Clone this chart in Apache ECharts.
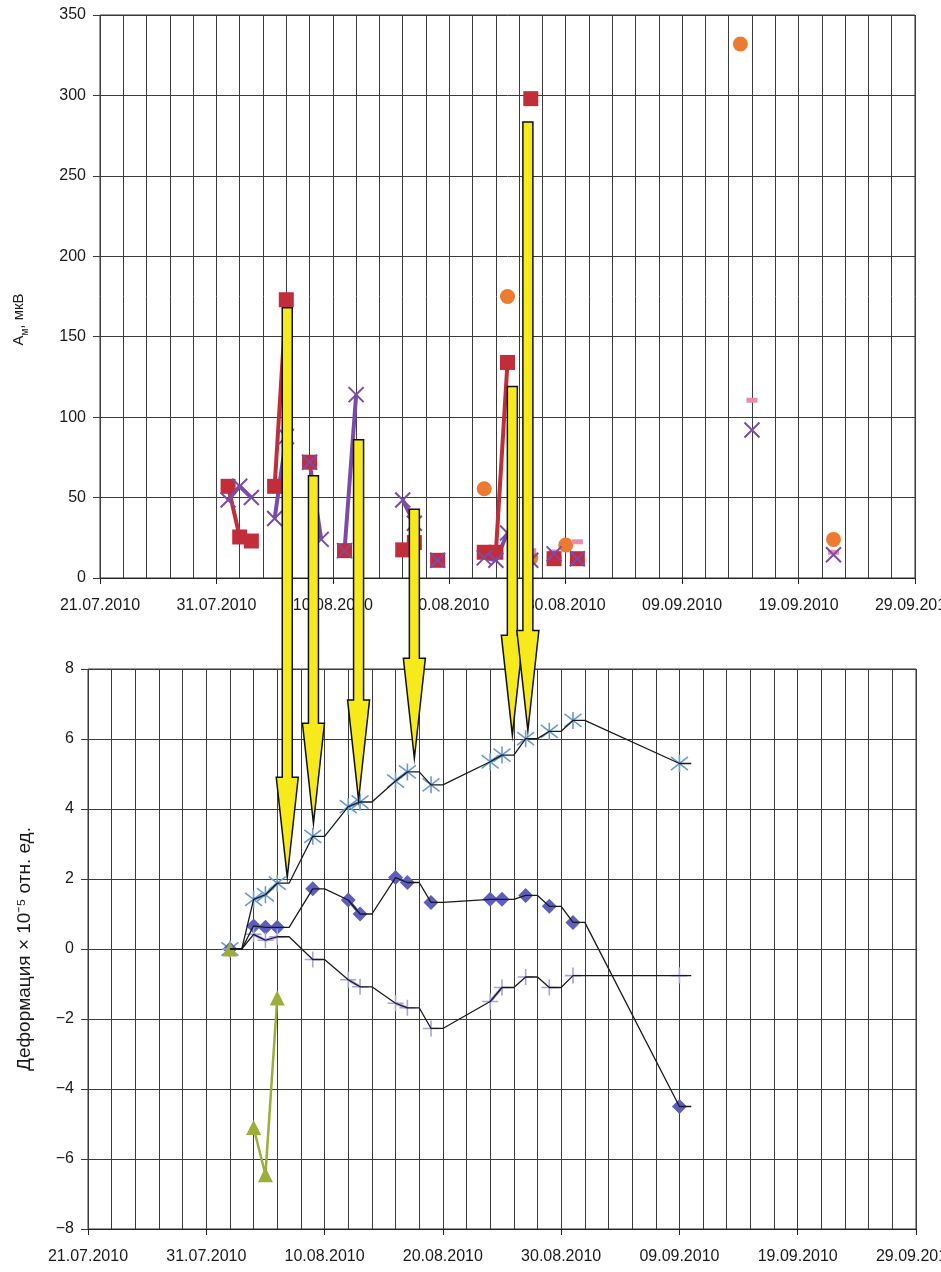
<!DOCTYPE html>
<html><head><meta charset="utf-8">
<script src="https://cdn.jsdelivr.net/npm/echarts@6/dist/echarts.min.js"></script>
<style>html,body{margin:0;padding:0;background:#fff}#c{width:941px;height:1272px}</style>
</head><body><div id="c"></div>
<script>
// ---------- tick labels ----------
const xTickLabels = ['21.07.2010','31.07.2010','10.08.2010','20.08.2010','30.08.2010','09.09.2010','19.09.2010','29.09.2010'];
const topYTicks = [0, 350, 50];      // min, max, step
const bottomYTicks = [-8, 8, 2];     // min, max, step

// ---------- top chart: A_м, мкВ ----------
const redDates   = ['01.08.2010','02.08.2010','03.08.2010','05.08.2010','06.08.2010','08.08.2010','11.08.2010','16.08.2010','17.08.2010','19.08.2010','23.08.2010','24.08.2010','25.08.2010','27.08.2010','29.08.2010','31.08.2010'];
const redValues  = [57, 25.5, 23, 57, 173, 72, 17, 17.5, 22, 11, 16, 16, 134, 298, 12, 12];

const purpleDates  = ['01.08.2010','02.08.2010','03.08.2010','05.08.2010','06.08.2010','08.08.2010','09.08.2010','11.08.2010','12.08.2010','16.08.2010','17.08.2010','19.08.2010','23.08.2010','24.08.2010','25.08.2010','27.08.2010','29.08.2010','31.08.2010','15.09.2010','22.09.2010'];
const purpleValues = [48.5, 57, 50, 37, 88, 72, 24, 17, 114, 48.5, 34, 11, 12.5, 11, 28, 11, 15, 12, 92, 14.5];

const orangeDates  = ['23.08.2010','25.08.2010','27.08.2010','29.08.2010','30.08.2010','14.09.2010','22.09.2010'];
const orangeValues = [55.5, 175, 12.5, 13, 20.5, 332, 24];

const pinkDates  = ['27.08.2010','29.08.2010','31.08.2010','15.09.2010','22.09.2010'];
const pinkValues = [17, 16, 22.5, 110.5, 16];

// ---------- bottom chart: deformation ----------
const starDates  = ['02.08.2010','04.08.2010','05.08.2010','06.08.2010','09.08.2010','12.08.2010','13.08.2010','16.08.2010','17.08.2010','19.08.2010','24.08.2010','25.08.2010','27.08.2010','29.08.2010','31.08.2010','09.09.2010'];
const starValues = [0, 1.42, 1.55, 1.88, 3.22, 4.07, 4.2, 4.8, 5.06, 4.69, 5.35, 5.54, 6.01, 6.22, 6.53, 5.3];

const diamondDates  = ['02.08.2010','04.08.2010','05.08.2010','06.08.2010','09.08.2010','12.08.2010','13.08.2010','16.08.2010','17.08.2010','19.08.2010','24.08.2010','25.08.2010','27.08.2010','29.08.2010','31.08.2010','09.09.2010'];
const diamondValues = [0, 0.66, 0.62, 0.62, 1.72, 1.4, 1.0, 2.04, 1.9, 1.33, 1.42, 1.42, 1.53, 1.22, 0.76, -4.5];

const plusDates  = ['02.08.2010','04.08.2010','05.08.2010','06.08.2010','09.08.2010','12.08.2010','13.08.2010','16.08.2010','17.08.2010','19.08.2010','24.08.2010','25.08.2010','27.08.2010','29.08.2010','31.08.2010','09.09.2010'];
const plusValues = [0, 0.42, 0.25, 0.35, -0.3, -0.88, -1.08, -1.55, -1.68, -2.27, -1.5, -1.1, -0.8, -1.1, -0.76, -0.76];

const triangleDates  = ['02.08.2010','04.08.2010','05.08.2010','06.08.2010'];
const triangleValues = [0, -5.1, -6.45, -1.4];

// ---------- yellow arrows (top-chart date, A value at top, deformation at tip) ----------
const arrowDates     = ['06.08.2010 02:00','08.08.2010 08:00','12.08.2010 05:00','17.08.2010 00:00','25.08.2010 10:00','26.08.2010 18:00'];
const arrowTopValues = [168, 63.5, 86, 42.8, 119, 283.5];
const arrowTipValues = [2.05, 3.59, 4.26, 5.45, 6.11, 6.24];

// ---------- helpers ----------
const T0 = Date.UTC(2010, 6, 21);
function dayOf(s) {
  const [date, time] = s.split(' ');
  const [d, m, y] = date.split('.').map(Number);
  let ms = Date.UTC(y, m - 1, d);
  if (time) { const [hh, mm] = time.split(':').map(Number); ms += (hh * 60 + mm) * 60000; }
  return (ms - T0) / 864e5;
}
// points on consecutive days are joined, otherwise the line is broken
function broken(dates, vals) {
  const ds = dates.map(dayOf), out = [];
  ds.forEach((d, i) => {
    if (i > 0 && d - ds[i - 1] > 1) out.push([(d + ds[i - 1]) / 2, null]);
    out.push([d, vals[i]]);
  });
  return out;
}
function pts(dates, vals) { return dates.map((s, i) => [dayOf(s), vals[i]]); }
// black trend line: each value is held for one day before moving to the next
function lagLine(dates, vals) {
  const ds = dates.map(dayOf), out = [];
  ds.forEach((d, i) => {
    out.push([d, vals[i]]);
    if (i === ds.length - 1 || ds[i + 1] - d > 1) out.push([d + 1, vals[i]]);
  });
  return out;
}

const FONT = "'Liberation Sans',Arial,sans-serif";
const GRID_C = '#3c3c3c';
const X_PATH = 'path://M0,0L10,10M10,0L0,10';
const STAR_PATH = 'path://M0,0L10,10M10,0L0,10M5,-1.5L5,11.5';
const PLUS_PATH = 'path://M5,0L5,10M0,5L10,5';

function xAxis(gi) {
  return {
    type: 'value', gridIndex: gi, min: 0, max: 70, interval: 10,
    axisLine: { show: true, onZero: false, lineStyle: { color: '#222', width: 1 } },
    axisTick: { show: true, length: 6, lineStyle: { color: '#222' } },
    axisLabel: { formatter: v => xTickLabels[Math.round(v / 10)], fontSize: 16, color: '#1a1a1a', fontFamily: FONT, margin: 20 },
    splitLine: { show: true, lineStyle: { color: GRID_C, width: 1 } },
    minorTick: { show: false, splitNumber: 5 },
    minorSplitLine: { show: true, lineStyle: { color: GRID_C, width: 1 } }
  };
}
function yAxis(gi, t, name, gap, nameStyle) {
  return {
    type: 'value', gridIndex: gi, min: t[0], max: t[1], interval: t[2],
    axisLine: { show: false },
    axisTick: { show: true, length: 7, lineStyle: { color: GRID_C } },
    axisLabel: { fontSize: 16, color: '#1a1a1a', fontFamily: FONT, margin: 14,
                 formatter: v => String(v).replace('-', '\u2212') },
    splitLine: { show: true, lineStyle: { color: GRID_C, width: 1 } },
    name: name, nameLocation: 'middle', nameRotate: 90, nameGap: gap, nameTextStyle: nameStyle
  };
}

const option = {
  backgroundColor: '#fff',
  animation: false,
  grid: [
    { left: 100, right: 26, top: 15, height: 563, show: true, borderColor: '#333', borderWidth: 1, outerBoundsMode: 'none', containLabel: false },
    { left: 88, right: 25, top: 669, height: 560, show: true, borderColor: '#333', borderWidth: 1, outerBoundsMode: 'none', containLabel: false }
  ],
  xAxis: [xAxis(0), xAxis(1)],
  yAxis: [
    yAxis(0, topYTicks, '{a|A}{s|м}{a|, мкВ}', 70, {
      padding: [0, 46, 0, 0],
      rich: { a: { fontSize: 15, fontFamily: FONT, color: '#1a1a1a', verticalAlign: 'middle', lineHeight: 22 },
              s: { fontSize: 10, fontFamily: FONT, color: '#1a1a1a', verticalAlign: 'bottom', lineHeight: 22 } } }),
    yAxis(1, bottomYTicks, 'Деформация × 10⁻⁵ отн. ед.', 54, { fontSize: 19, fontFamily: FONT, color: '#1a1a1a' })
  ],
  series: [
    { type: 'line', xAxisIndex: 0, yAxisIndex: 0, data: broken(redDates, redValues), connectNulls: false,
      symbol: 'rect', symbolSize: 15, showAllSymbol: true,
      itemStyle: { color: '#C22D3A' }, lineStyle: { color: '#C22D3A', width: 4 } },
    { type: 'line', xAxisIndex: 0, yAxisIndex: 0, data: broken(purpleDates, purpleValues), connectNulls: false,
      symbol: X_PATH, symbolSize: 15, showAllSymbol: true,
      itemStyle: { color: 'rgba(0,0,0,0)', borderColor: '#7C4BA9', borderWidth: 2 }, lineStyle: { color: '#7C4BA9', width: 4 } },
    { type: 'scatter', xAxisIndex: 0, yAxisIndex: 0, data: pts(orangeDates, orangeValues),
      symbol: 'circle', symbolSize: 15, itemStyle: { color: '#EC7A30', opacity: 1 } },
    { type: 'scatter', xAxisIndex: 0, yAxisIndex: 0, data: pts(pinkDates, pinkValues),
      symbol: 'rect', symbolSize: [11, 5], itemStyle: { color: '#E98CA8', opacity: 1 } },

    { type: 'line', xAxisIndex: 1, yAxisIndex: 1, data: broken(starDates, starValues), connectNulls: false,
      symbol: STAR_PATH, symbolSize: 17, showAllSymbol: true,
      itemStyle: { color: 'rgba(0,0,0,0)', borderColor: '#6A9BCF', borderWidth: 1.6 }, lineStyle: { color: '#6A9BCF', width: 3 } },
    { type: 'line', xAxisIndex: 1, yAxisIndex: 1, data: broken(diamondDates, diamondValues), connectNulls: false,
      symbol: 'diamond', symbolSize: 15, showAllSymbol: true,
      itemStyle: { color: '#5C5FC0' }, lineStyle: { color: '#5C5FC0', width: 3 } },
    { type: 'line', xAxisIndex: 1, yAxisIndex: 1, data: broken(plusDates, plusValues), connectNulls: false,
      symbol: PLUS_PATH, symbolSize: 16, showAllSymbol: true,
      itemStyle: { color: 'rgba(0,0,0,0)', borderColor: '#A6A3E6', borderWidth: 1.6 }, lineStyle: { color: '#A6A3E6', width: 3 } },
    { type: 'line', xAxisIndex: 1, yAxisIndex: 1, data: broken(triangleDates, triangleValues), connectNulls: false,
      symbol: 'triangle', symbolSize: 15, showAllSymbol: true,
      itemStyle: { color: '#9CAD3A' }, lineStyle: { color: '#9CAD3A', width: 2.5 } },

    { type: 'line', xAxisIndex: 1, yAxisIndex: 1, data: lagLine(starDates, starValues), symbol: 'none', silent: true,
      lineStyle: { color: '#1a1a1a', width: 1.3 }, z: 5 },
    { type: 'line', xAxisIndex: 1, yAxisIndex: 1, data: lagLine(diamondDates, diamondValues), symbol: 'none', silent: true,
      lineStyle: { color: '#1a1a1a', width: 1.3 }, z: 5 },
    { type: 'line', xAxisIndex: 1, yAxisIndex: 1, data: lagLine(plusDates, plusValues), symbol: 'none', silent: true,
      lineStyle: { color: '#1a1a1a', width: 1.3 }, z: 5 }
  ]
};

const chart = echarts.init(document.getElementById('c'), null, { renderer: 'canvas' });
chart.setOption(option);

// yellow arrows placed through the axes' own scales
const SHAFT = 5, HEAD_W = 11, HEAD_L = 100;
const arrows = arrowDates.map((s, i) => {
  const x = chart.convertToPixel({ xAxisIndex: 0 }, dayOf(s));
  const yTop = chart.convertToPixel({ yAxisIndex: 0 }, arrowTopValues[i]);
  const yTip = chart.convertToPixel({ yAxisIndex: 1 }, arrowTipValues[i]);
  const yh = yTip - HEAD_L;
  return {
    type: 'polygon', z: 100, silent: true,
    shape: { points: [[x - SHAFT, yTop], [x + SHAFT, yTop], [x + SHAFT, yh], [x + HEAD_W, yh], [x, yTip], [x - HEAD_W, yh], [x - SHAFT, yh]] },
    style: { fill: '#F6EA1C', stroke: '#111', lineWidth: 1.5 }
  };
});
chart.setOption({ graphic: arrows });
</script>
</body></html>
